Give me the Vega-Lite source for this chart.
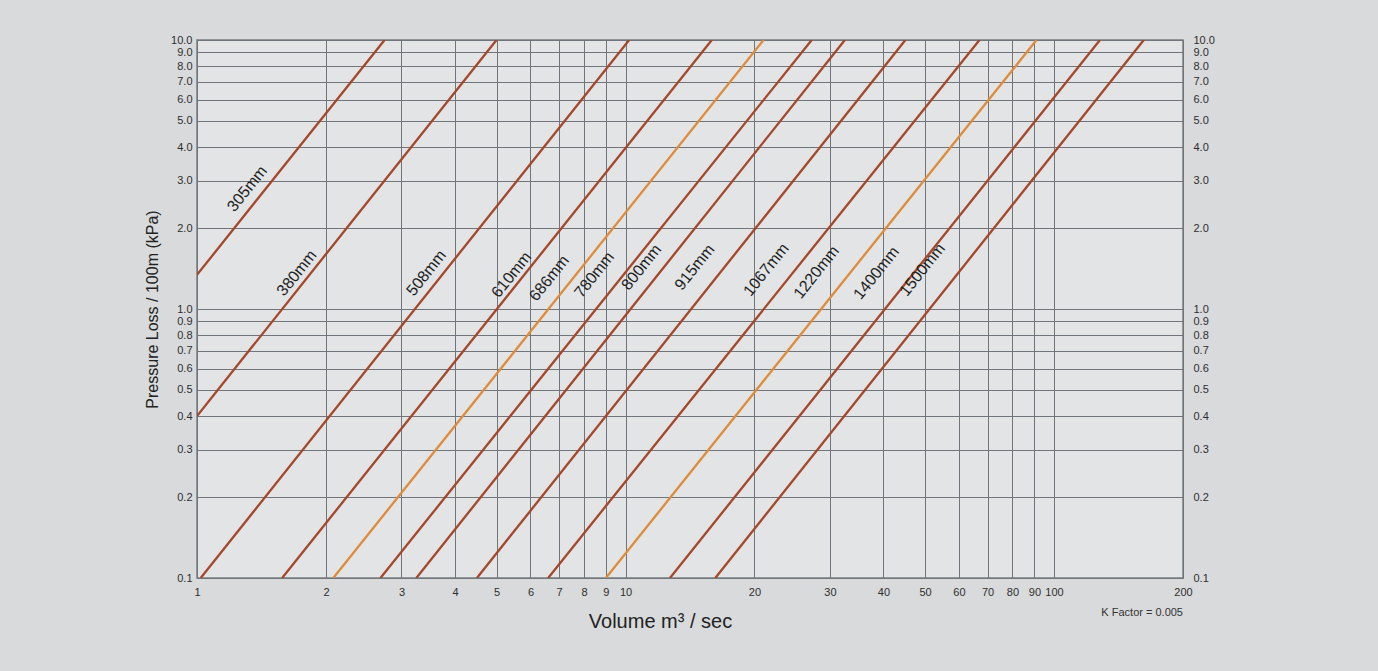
{
  "$schema": "https://vega.github.io/schema/vega-lite/v6.json",
  "autosize": {"type": "none"},
  "width": 986,
  "height": 538,
  "padding": {"left": 197, "top": 40, "right": 195, "bottom": 93},
  "background": "#d8dadb",
  "config": {
    "view": {"fill": "#e2e4e5", "stroke": "#7a7f83", "strokeWidth": 1.5},
    "font": "Liberation Sans",
    "axis": {"gridColor": "#6f757a", "gridOpacity": 1, "gridWidth": 1, "domain": false, "ticks": false, "labelColor": "#2e2e2e", "labelFont": "Liberation Sans", "titleFont": "Liberation Sans", "titleColor": "#222222", "titleFontWeight": "normal"}
  },
  "datasets": {
    "lines": [
      {"pipe": "305mm", "tone": "dark", "q": 1, "p": 1.34},
      {"pipe": "305mm", "tone": "dark", "q": 2.74, "p": 10},
      {"pipe": "380mm", "tone": "dark", "q": 1, "p": 0.4},
      {"pipe": "380mm", "tone": "dark", "q": 5.0, "p": 10},
      {"pipe": "508mm", "tone": "dark", "q": 1.02, "p": 0.1},
      {"pipe": "508mm", "tone": "dark", "q": 10.2, "p": 10},
      {"pipe": "610mm", "tone": "dark", "q": 1.58, "p": 0.1},
      {"pipe": "610mm", "tone": "dark", "q": 15.9, "p": 10},
      {"pipe": "686mm", "tone": "light", "q": 2.08, "p": 0.1},
      {"pipe": "686mm", "tone": "light", "q": 21.0, "p": 10},
      {"pipe": "780mm", "tone": "dark", "q": 2.68, "p": 0.1},
      {"pipe": "780mm", "tone": "dark", "q": 27.2, "p": 10},
      {"pipe": "800mm", "tone": "dark", "q": 3.25, "p": 0.1},
      {"pipe": "800mm", "tone": "dark", "q": 32.5, "p": 10},
      {"pipe": "915mm", "tone": "dark", "q": 4.5, "p": 0.1},
      {"pipe": "915mm", "tone": "dark", "q": 45, "p": 10},
      {"pipe": "1067mm", "tone": "dark", "q": 6.6, "p": 0.1},
      {"pipe": "1067mm", "tone": "dark", "q": 67, "p": 10},
      {"pipe": "1220mm", "tone": "light", "q": 9.0, "p": 0.1},
      {"pipe": "1220mm", "tone": "light", "q": 91, "p": 10},
      {"pipe": "1400mm", "tone": "dark", "q": 12.7, "p": 0.1},
      {"pipe": "1400mm", "tone": "dark", "q": 128, "p": 10},
      {"pipe": "1500mm", "tone": "dark", "q": 16.2, "p": 0.1},
      {"pipe": "1500mm", "tone": "dark", "q": 162, "p": 10}
    ],
    "labels": [
      {"pipe": "305mm", "q": 1.31, "p": 2.8},
      {"pipe": "380mm", "q": 1.71, "p": 1.36},
      {"pipe": "508mm", "q": 3.43, "p": 1.36},
      {"pipe": "610mm", "q": 5.42, "p": 1.34},
      {"pipe": "686mm", "q": 6.64, "p": 1.30},
      {"pipe": "780mm", "q": 8.46, "p": 1.34},
      {"pipe": "800mm", "q": 10.9, "p": 1.43},
      {"pipe": "915mm", "q": 14.5, "p": 1.43},
      {"pipe": "1067mm", "q": 21.3, "p": 1.40},
      {"pipe": "1220mm", "q": 27.9, "p": 1.37},
      {"pipe": "1400mm", "q": 38.5, "p": 1.36},
      {"pipe": "1500mm", "q": 49.3, "p": 1.40}
    ],
    "note": [
      {"text": "K Factor = 0.005", "q": 200, "p": 0.1}
    ]
  },
  "layer": [
    {
      "data": {"name": "lines"},
      "mark": {"type": "line", "strokeWidth": 2.3, "clip": true},
      "encoding": {
        "x": {
          "field": "q", "type": "quantitative",
          "scale": {"type": "log", "domain": [1, 200], "nice": false},
          "axis": {
            "values": [1, 2, 3, 4, 5, 6, 7, 8, 9, 10, 20, 30, 40, 50, 60, 70, 80, 90, 100, 200],
            "format": "d", "labelFontSize": 11, "labelPadding": 8, "labelFlush": false,
            "title": "Volume m³ / sec", "titleFontSize": 20, "titlePadding": 14, "titleX": 463
          }
        },
        "y": {
          "field": "p", "type": "quantitative",
          "scale": {"type": "log", "domain": [0.1, 10], "nice": false},
          "axis": {
            "values": [0.1, 0.2, 0.3, 0.4, 0.5, 0.6, 0.7, 0.8, 0.9, 1, 2, 3, 4, 5, 6, 7, 8, 9, 10],
            "format": ".1f", "labelFontSize": 11, "labelPadding": 5, "labelFlush": false,
            "title": "Pressure Loss / 100m (kPa)", "titleFontSize": 16, "titlePadding": 10
          }
        },
        "detail": {"field": "pipe"},
        "color": {
          "field": "tone", "type": "nominal",
          "scale": {"domain": ["dark", "light"], "range": ["#a4472a", "#de8c3c"]},
          "legend": null
        }
      }
    },
    {
      "data": {"name": "lines"},
      "mark": {"type": "rule", "opacity": 0},
      "encoding": {
        "y": {
          "field": "p", "type": "quantitative",
          "scale": {"type": "log", "domain": [0.1, 10], "nice": false},
          "axis": {
            "orient": "right", "grid": false,
            "values": [0.1, 0.2, 0.3, 0.4, 0.5, 0.6, 0.7, 0.8, 0.9, 1, 2, 3, 4, 5, 6, 7, 8, 9, 10],
            "format": ".1f", "labelFontSize": 11, "labelPadding": 10, "labelFlush": false,
            "title": null
          }
        }
      }
    },
    {
      "data": {"name": "labels"},
      "mark": {"type": "text", "angle": -51.4, "fontSize": 16, "color": "#1e1e1e", "align": "center", "baseline": "middle"},
      "encoding": {
        "x": {"field": "q", "type": "quantitative"},
        "y": {"field": "p", "type": "quantitative", "axis": null},
        "text": {"field": "pipe"}
      }
    },
    {
      "data": {"name": "note"},
      "mark": {"type": "text", "fontSize": 11, "color": "#333333", "align": "right", "baseline": "middle", "dy": 35, "clip": false},
      "encoding": {
        "x": {"field": "q", "type": "quantitative"},
        "y": {"field": "p", "type": "quantitative", "axis": null},
        "text": {"field": "text"}
      }
    }
  ],
  "resolve": {"axis": {"y": "independent"}}
}
